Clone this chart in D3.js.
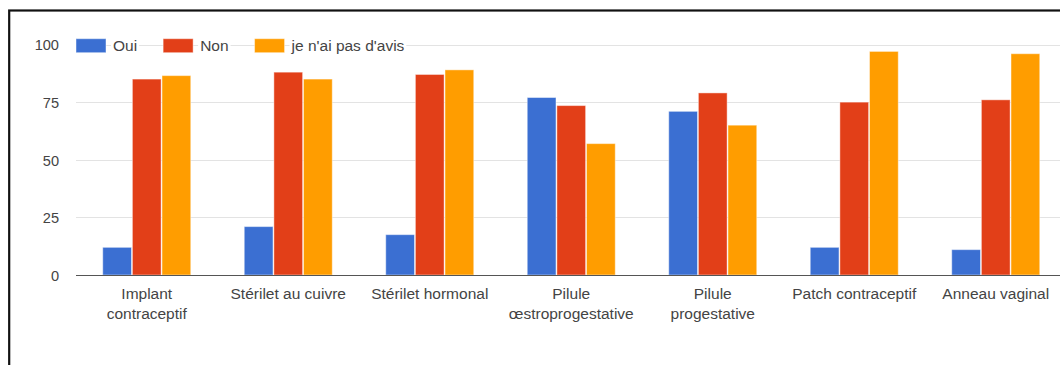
<!DOCTYPE html>
<html>
<head>
<meta charset="utf-8">
<script src="https://cdn.jsdelivr.net/npm/d3@7"></script>
<style>
  html, body { margin: 0; padding: 0; background: #fff; overflow: hidden; }
  svg { display: block; font-family: "Liberation Sans", Arial, sans-serif; }
</style>
</head>
<body>
<svg id="chart" width="1060" height="365"></svg>
<script>
// Contraceptive methods (x categories), with their two-line axis labels
const categories = [
  "Implant contraceptif",
  "Stérilet au cuivre",
  "Stérilet hormonal",
  "Pilule œstroprogestative",
  "Pilule progestative",
  "Patch contraceptif",
  "Anneau vaginal"
];
const categoryLabels = [
  ["Implant", "contraceptif"],
  ["Stérilet au cuivre"],
  ["Stérilet hormonal"],
  ["Pilule", "œstroprogestative"],
  ["Pilule", "progestative"],
  ["Patch contraceptif"],
  ["Anneau vaginal"]
];

// Answer series
const seriesNames = ["Oui", "Non", "je n'ai pas d'avis"];
const ouiValues   = [12, 21, 17.5, 77, 71, 12, 11];
const nonValues   = [85, 88, 87, 73.5, 79, 75, 76];
const avisValues  = [86.5, 85, 89, 57, 65, 97, 96];
const seriesColors = ["#3b6fd2", "#e23f18", "#ff9d00"];

// Y axis ticks
const yTicks = [0, 25, 50, 75, 100];

const seriesValues = [ouiValues, nonValues, avisValues];
const rows = categories.map((c, i) => ({
  category: c,
  values: seriesNames.map((s, k) => ({ series: s, value: seriesValues[k][i] }))
}));

const svg = d3.select("#chart");
const plot = { left: 76, right: 1066.5, top: 44.5, bottom: 275 };

const x0 = d3.scaleBand()
  .domain(categories)
  .range([plot.left, plot.right])
  .paddingInner(0.378)
  .paddingOuter(0.189);

const x1 = d3.scaleBand()
  .domain(seriesNames)
  .range([0, x0.bandwidth()])
  .paddingInner(0.03);

const y = d3.scaleLinear()
  .domain([0, 100])
  .range([plot.bottom, plot.top]);

const color = d3.scaleOrdinal().domain(seriesNames).range(seriesColors);

// Horizontal gridlines
svg.append("g")
  .selectAll("line")
  .data(yTicks.filter(t => t !== 0))
  .join("line")
  .attr("x1", plot.left)
  .attr("x2", plot.right)
  .attr("y1", d => Math.round(y(d)) + 0.5)
  .attr("y2", d => Math.round(y(d)) + 0.5)
  .attr("stroke", "#e3e3e3")
  .attr("stroke-width", 1);

// Y axis labels
const yAxis = d3.axisLeft(y).tickValues(yTicks).tickSize(0).tickPadding(0);
svg.append("g")
  .attr("transform", `translate(59,0)`)
  .call(yAxis)
  .call(g => g.select(".domain").remove())
  .call(g => g.selectAll("text")
    .attr("font-size", "14.6px")
    .attr("font-family", "'Liberation Sans', Arial, sans-serif")
    .attr("fill", "#444")
    .attr("dy", "0.36em"));

// Bars
const groups = svg.append("g")
  .selectAll("g")
  .data(rows)
  .join("g")
  .attr("transform", d => `translate(${x0(d.category)},0)`);

groups.selectAll("rect")
  .data(d => d.values)
  .join("rect")
  .attr("x", d => x1(d.series))
  .attr("y", d => y(d.value))
  .attr("width", x1.bandwidth())
  .attr("height", d => y(0) - y(d.value))
  .attr("fill", d => color(d.series))
  .attr("stroke", "rgba(255,255,255,0.45)")
  .attr("stroke-width", 1);

// Baseline
svg.append("line")
  .attr("x1", plot.left)
  .attr("x2", plot.right)
  .attr("y1", y(0) + 0.5)
  .attr("y2", y(0) + 0.5)
  .attr("stroke", "#555")
  .attr("stroke-width", 1.2);

// X axis labels
const xLabels = svg.append("g")
  .selectAll("text")
  .data(categories)
  .join("text")
  .attr("x", d => x0(d) + x0.bandwidth() / 2)
  .attr("y", 299)
  .attr("text-anchor", "middle")
  .attr("font-size", "15.5px")
  .attr("fill", "#444");

xLabels.selectAll("tspan")
  .data((d, i) => categoryLabels[i])
  .join("tspan")
  .attr("x", function () { return d3.select(this.parentNode).attr("x"); })
  .attr("dy", (d, i) => i === 0 ? 0 : 19.5)
  .text(d => d);

// Legend, sitting on the top gridline
const legend = svg.append("g");
let lx = plot.left;
const ly = 45.7;
seriesNames.forEach(name => {
  const item = legend.append("g");
  item.append("rect")
    .attr("x", lx)
    .attr("y", ly - 7)
    .attr("width", 30)
    .attr("height", 14)
    .attr("fill", color(name))
    .attr("stroke", "rgba(255,255,255,0.45)");
  const bg = item.append("rect").attr("fill", "#fff");
  const t = item.append("text")
    .attr("x", lx + 37)
    .attr("y", ly + 5.3)
    .attr("font-size", "15.5px")
    .attr("fill", "#444")
    .text(name);
  const w = t.node().getComputedTextLength();
  bg.attr("x", lx + 35).attr("y", ly - 9).attr("width", w + 4).attr("height", 18);
  lx += 37 + w + 26;
});

// Frame around the chart
svg.append("rect")
  .attr("x", 9.2)
  .attr("y", 10.5)
  .attr("width", 1080)
  .attr("height", 400)
  .attr("fill", "none")
  .attr("stroke", "#111")
  .attr("stroke-width", 2.2);
</script>
</body>
</html>
